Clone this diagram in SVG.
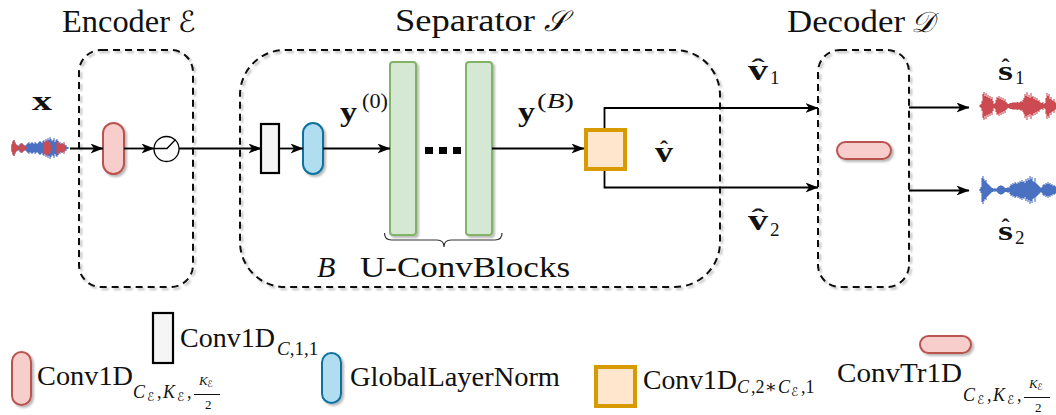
<svg xmlns="http://www.w3.org/2000/svg" width="1056" height="415" viewBox="0 0 1056 415">
  <style>
    .t { font-family: "Liberation Serif", "DejaVu Serif", serif; fill: #111; }
    .b { font-weight: bold; }
    .i { font-style: italic; }
    .scr { font-family: "DejaVu Sans", "DejaVu Serif", "Liberation Serif", serif; font-style: italic; }
    .grp { fill: none; stroke: #111; stroke-width: 2; stroke-dasharray: 7 5; }
    .wire { fill: none; stroke: #000; stroke-width: 1.8; }
    .arr { marker-end: url(#ah); }
    .conv { fill: #f8cecc; stroke: #b85450; stroke-width: 2; }
    .pw { fill: #f5f5f5; stroke: #000; stroke-width: 2.2; }
    .gln { fill: #b1ddf0; stroke: #10739e; stroke-width: 2; }
    .ucb { fill: #d5e8d4; stroke: #82b366; stroke-width: 2; }
    .mask { fill: #ffe6cc; stroke: #d79b00; stroke-width: 4; }
    .red { fill: none; stroke: #cc4a52; stroke-width: 1.1; }
    .blue { fill: none; stroke: #4a70c2; stroke-width: 1.1; }
  </style>
  <defs>
    <marker id="ah" viewBox="0 0 13 10" refX="12.5" refY="5" markerWidth="13" markerHeight="10" markerUnits="userSpaceOnUse" orient="auto">
      <path d="M0,0 L13,5 L0,10 L3.5,5 Z" fill="#000"/>
    </marker>
    <filter id="sh" x="-30%" y="-30%" width="160%" height="160%">
      <feDropShadow dx="2" dy="2" stdDeviation="1" flood-color="#000" flood-opacity="0.28"/>
    </filter>
  </defs>

  <!-- stage outlines -->
  <g id="encoder">
    <rect class="grp" x="79" y="50" width="114" height="237" rx="22" filter="url(#sh)"/>
    <text class="t" x="62" y="32" font-size="31" textLength="108" lengthAdjust="spacingAndGlyphs">Encoder</text>
    <text class="t scr" x="178" y="32" font-size="29">ℰ</text>
  </g>
  <g id="separator">
    <rect class="grp" x="240" y="50" width="480" height="237" rx="45" filter="url(#sh)"/>
    <text class="t" x="395" y="31" font-size="31" textLength="140" lengthAdjust="spacingAndGlyphs">Separator</text>
    <text class="t scr" x="544" y="31" font-size="29">𝒮</text>
  </g>
  <g id="decoder">
    <rect class="grp" x="818" y="50" width="91" height="237" rx="22" filter="url(#sh)"/>
    <text class="t" x="787" y="32" font-size="31" textLength="118" lengthAdjust="spacingAndGlyphs">Decoder</text>
    <text class="t scr" x="911" y="32" font-size="29">𝒟</text>
  </g>

  <!-- input mixture waveform -->
  <g id="mixture">
    <path class="blue" d="M12 145v6M13 142v12M14 140v16M15 143v10M16 145v6M17 146v4M18 145v6M19 146v4M20 144v8M21 143v10M22 145v6M23 146v4M24 145v6M25 146v4M26 145v6M27 144v8M28 143v10M29 142v12M30 144v8M31 143v10M32 142v12M33 143v10M34 144v8M35 142v12M36 143v10M37 144v8M38 143v10M39 142v12M40 141v14M41 142v12M42 143v10M43 141v14M44 140v16M45 142v12M46 139v18M47 141v14M48 138v20M49 140v16M50 137v22M51 139v18M52 141v14M53 140v16M54 138v20M55 142v12M56 140v16M57 139v18M58 141v14M59 143v10M60 142v12M61 144v8M62 143v10M63 145v6M64 144v8M65 146v4M66 145v6M67 147v2M68 147v2"/>
    <path class="red" d="M12 144v8M13 141v14M14 140v16M15 142v12M16 144v8M17 145v6M18 146v4M19 147v2M20 145v6M21 144v8M22 143v10M23 144v8M24 145v6M25 146v4M26 147v2M44 143v10M45 142v12M46 141v14M47 140v16M48 142v12M49 141v14M50 143v10M51 145v6M57 142v12M58 141v14M59 143v10M60 144v8M61 145v6M62 143v10M63 144v8M64 142v12M65 145v6"/>
    <text class="t b" x="32" y="110" font-size="28" textLength="20" lengthAdjust="spacingAndGlyphs">x</text>
  </g>

  <!-- encoder: Conv1D + ReLU -->
  <g id="enc-conv">
    <rect class="conv" x="103" y="123" width="21" height="51" rx="10.5" filter="url(#sh)"/>
  </g>
  <g id="enc-relu">
    <circle cx="166.5" cy="149" r="12.5" fill="#fff" stroke="#000" stroke-width="1.3"/>
    <path d="M154 148.5H167L175.5 139.5" fill="none" stroke="#000" stroke-width="1.3"/>
  </g>

  <!-- separator blocks -->
  <g id="sep-pointwise">
    <rect class="pw" x="261" y="124" width="18" height="49"/>
  </g>
  <g id="sep-gln">
    <rect class="gln" x="303" y="123" width="20" height="51" rx="10" filter="url(#sh)"/>
  </g>
  <g id="y0-label">
    <text class="t b" x="340" y="121" font-size="28" textLength="17" lengthAdjust="spacingAndGlyphs">y</text>
    <text class="t" x="362" y="108" font-size="20" textLength="26" lengthAdjust="spacingAndGlyphs">(0)</text>
  </g>
  <g id="ucb-first">
    <rect class="ucb" x="390" y="62" width="26" height="173" rx="3" filter="url(#sh)"/>
  </g>
  <g id="ucb-dots">
    <rect x="425" y="147" width="8" height="7" fill="#000"/>
    <rect x="439" y="147" width="8" height="7" fill="#000"/>
    <rect x="453" y="147" width="8" height="7" fill="#000"/>
  </g>
  <g id="ucb-last">
    <rect class="ucb" x="466" y="62" width="26" height="173" rx="3" filter="url(#sh)"/>
  </g>
  <g id="ucb-brace">
    <path d="M384.5 233q0 7 7 7H437q7 0 7 7q0-7 7-7H495q7 0 7-7" fill="none" stroke="#333" stroke-width="1.2"/>
    <text class="t i" x="317" y="277" font-size="30">B</text>
    <text class="t" x="360" y="277" font-size="30" textLength="210" lengthAdjust="spacingAndGlyphs">U-ConvBlocks</text>
  </g>
  <g id="yB-label">
    <text class="t b" x="518" y="121" font-size="28" textLength="17" lengthAdjust="spacingAndGlyphs">y</text>
    <text class="t" x="537" y="108" font-size="20" textLength="37" lengthAdjust="spacingAndGlyphs">(<tspan class="i">B</tspan>)</text>
  </g>
  <g id="sep-mask">
    <rect class="mask" x="586" y="130" width="39" height="39"/>
    <text class="t b" x="655" y="162" font-size="29" textLength="18" lengthAdjust="spacingAndGlyphs">v</text>
    <text class="t b" x="664" y="157" font-size="24" text-anchor="middle">ˆ</text>
  </g>

  <!-- branch labels -->
  <g id="v1-label">
    <text class="t b" x="748" y="80" font-size="29" textLength="20" lengthAdjust="spacingAndGlyphs">v</text>
    <text class="t b" x="0" y="0" font-size="24" text-anchor="middle" transform="translate(758 75) scale(1.7 1)">ˆ</text>
    <text class="t" x="770" y="84" font-size="19">1</text>
  </g>
  <g id="v2-label">
    <text class="t b" x="748" y="230" font-size="29" textLength="20" lengthAdjust="spacingAndGlyphs">v</text>
    <text class="t b" x="0" y="0" font-size="24" text-anchor="middle" transform="translate(758 225) scale(1.7 1)">ˆ</text>
    <text class="t" x="770" y="236" font-size="19">2</text>
  </g>

  <!-- decoder -->
  <g id="dec-convtr">
    <rect class="conv" x="837" y="142" width="54" height="17" rx="8.5" filter="url(#sh)"/>
  </g>

  <!-- estimated sources -->
  <g id="source1">
    <path class="red" d="M980 105v2M981 104v4M982 101v10M983 94v24M984 92v28M985 96v20M986 93v26M987 97v18M988 95v22M989 98v16M990 96v20M991 99v14M992 97v18M993 101v10M994 104v4M995 103v6M996 100v12M997 97v18M998 98v16M999 96v20M1000 99v14M1001 97v18M1002 100v12M1003 98v16M1004 101v10M1005 99v14M1006 102v8M1007 103v6M1008 104v4M1009 104v4M1010 103v6M1011 103v6M1012 103v6M1013 102v8M1014 103v6M1015 102v8M1016 103v6M1017 102v8M1018 102v8M1019 103v6M1020 102v8M1021 101v10M1022 102v8M1023 100v12M1024 98v16M1025 94v24M1026 96v20M1027 92v28M1028 97v18M1029 95v22M1030 98v16M1031 93v26M1032 97v18M1033 96v20M1034 99v14M1035 97v18M1036 100v12M1037 98v16M1038 101v10M1039 100v12M1040 102v8M1041 103v6M1042 103v6M1043 102v8M1044 104v4M1045 103v6M1046 98v16M1047 93v26M1048 96v20M1049 94v24M1050 99v14M1051 97v18M1052 100v12M1053 101v10M1054 99v14M1055 102v8M1056 103v6"/>
    <text class="t b" x="998" y="80" font-size="28" textLength="15" lengthAdjust="spacingAndGlyphs">s</text>
    <text class="t b" x="1005.5" y="75" font-size="24" text-anchor="middle">ˆ</text>
    <text class="t" x="1015" y="84" font-size="19">1</text>
  </g>
  <g id="source2">
    <path class="blue" d="M980 189v2M981 187v6M982 178v24M983 176v28M984 179v22M985 181v18M986 180v20M987 183v14M988 184v12M989 185v10M990 186v8M991 187v6M992 188v4M993 188v4M994 189v2M995 188v4M996 189v2M997 188v4M998 187v6M999 186v8M1000 186v8M1001 185v10M1002 186v8M1003 186v8M1004 187v6M1005 188v4M1006 188v4M1007 188v4M1008 187v6M1009 188v4M1010 186v8M1011 184v12M1012 185v10M1013 183v14M1014 184v12M1015 182v16M1016 183v14M1017 184v12M1018 182v16M1019 183v14M1020 181v18M1021 182v16M1022 180v20M1023 182v16M1024 181v18M1025 183v14M1026 179v22M1027 181v18M1028 178v24M1029 180v20M1030 176v28M1031 179v22M1032 177v26M1033 181v18M1034 182v16M1035 178v24M1036 183v14M1037 184v12M1038 185v10M1039 186v8M1040 187v6M1041 188v4M1042 187v6M1043 185v10M1044 184v12M1045 185v10M1046 183v14M1047 184v12M1048 182v16M1049 184v12M1050 183v14M1051 185v10M1052 184v12M1053 186v8M1054 185v10M1055 186v8M1056 187v6"/>
    <text class="t b" x="998" y="240" font-size="28" textLength="15" lengthAdjust="spacingAndGlyphs">s</text>
    <text class="t b" x="1005.5" y="235" font-size="24" text-anchor="middle">ˆ</text>
    <text class="t" x="1015" y="244" font-size="19">2</text>
  </g>

  <!-- signal flow -->
  <g id="connectors">
    <path class="wire arr" d="M70 148.5H103"/>
    <path class="wire arr" d="M124 148.5H154"/>
    <path class="wire arr" d="M179 148.5H261"/>
    <path class="wire arr" d="M279 148.5H303"/>
    <path class="wire arr" d="M323 148.5H390"/>
    <path class="wire arr" d="M492 148.5H584"/>
    <path class="wire arr" d="M604.5 128V108H818"/>
    <path class="wire arr" d="M604.5 171V187.5H818"/>
    <path class="wire arr" d="M909 107.5H969"/>
    <path class="wire arr" d="M909 190.5H969"/>
  </g>

  <!-- legend -->
  <g id="legend-conv">
    <rect class="conv" x="12" y="352" width="19" height="53" rx="9.5" filter="url(#sh)"/>
    <text class="t" x="37" y="385" font-size="28" textLength="96" lengthAdjust="spacingAndGlyphs">Conv1D</text>
    <text class="t i" x="133" y="398" font-size="18">C</text>
    <text class="t scr" x="147" y="401" font-size="12">ℰ</text>
    <text class="t" x="157" y="398" font-size="18">,</text>
    <text class="t i" x="163" y="398" font-size="18">K</text>
    <text class="t scr" x="177" y="401" font-size="12">ℰ</text>
    <text class="t" x="187" y="398" font-size="18">,</text>
    <text class="t i" x="199" y="385" font-size="13">K</text>
    <text class="t scr" x="207" y="387" font-size="9">ℰ</text>
    <line x1="194" y1="394.5" x2="220" y2="394.5" stroke="#111" stroke-width="1"/>
    <text class="t" x="205" y="409" font-size="13">2</text>
  </g>
  <g id="legend-pointwise">
    <rect class="pw" x="153" y="313" width="20" height="50"/>
    <text class="t" x="180" y="347" font-size="28" textLength="95" lengthAdjust="spacingAndGlyphs">Conv1D</text>
    <text class="t" x="277" y="355" font-size="19"><tspan class="i">C</tspan>,1,1</text>
  </g>
  <g id="legend-gln">
    <rect class="gln" x="322" y="353" width="19" height="50" rx="9.5" filter="url(#sh)"/>
    <text class="t" x="350" y="386" font-size="28" textLength="210" lengthAdjust="spacingAndGlyphs">GlobalLayerNorm</text>
  </g>
  <g id="legend-mask">
    <rect class="mask" x="596" y="367" width="39" height="39"/>
    <text class="t" x="643" y="389" font-size="28" textLength="94" lengthAdjust="spacingAndGlyphs">Conv1D</text>
    <text class="t i" x="737" y="393" font-size="18">C</text>
    <text class="t" x="751" y="393" font-size="18">,2∗</text>
    <text class="t i" x="778" y="393" font-size="18">C</text>
    <text class="t scr" x="791" y="396" font-size="12">ℰ</text>
    <text class="t" x="801" y="393" font-size="18">,1</text>
  </g>
  <g id="legend-convtr">
    <rect class="conv" x="920" y="336" width="51" height="17" rx="8.5" filter="url(#sh)"/>
    <text class="t" x="837" y="382" font-size="28" textLength="125" lengthAdjust="spacingAndGlyphs">ConvTr1D</text>
    <text class="t i" x="963" y="401" font-size="18">C</text>
    <text class="t scr" x="977" y="404" font-size="12">ℰ</text>
    <text class="t" x="987" y="401" font-size="18">,</text>
    <text class="t i" x="993" y="401" font-size="18">K</text>
    <text class="t scr" x="1007" y="404" font-size="12">ℰ</text>
    <text class="t" x="1017" y="401" font-size="18">,</text>
    <text class="t i" x="1029" y="388" font-size="13">K</text>
    <text class="t scr" x="1037" y="390" font-size="9">ℰ</text>
    <line x1="1024" y1="397.5" x2="1050" y2="397.5" stroke="#111" stroke-width="1"/>
    <text class="t" x="1035" y="412" font-size="13">2</text>
  </g>
</svg>
